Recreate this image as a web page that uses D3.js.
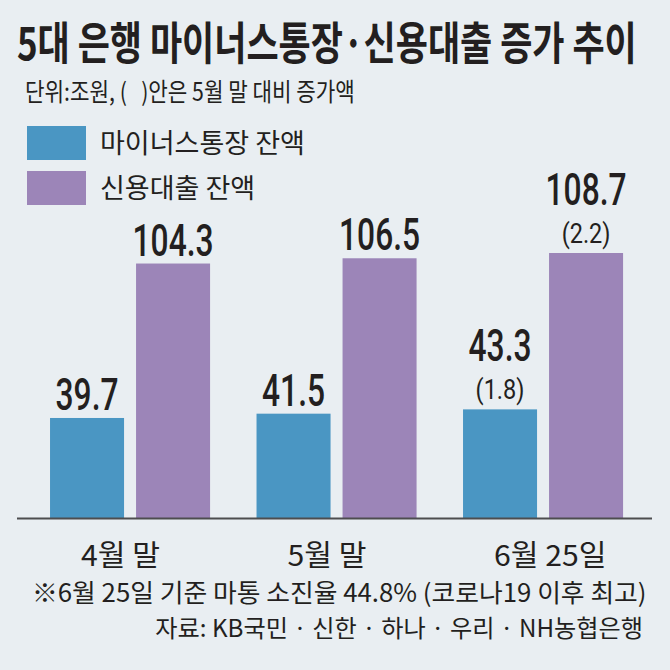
<!DOCTYPE html>
<html>
<head>
<meta charset="utf-8">
<script src="https://cdn.jsdelivr.net/npm/d3@7"></script>
<style>
  html, body { margin: 0; padding: 0; background: #e9eef2; }
  text { white-space: pre; }
</style>
</head>
<body>
<script>
// ---------- data ----------
const categories = ["4월 말", "5월 말", "6월 25일"];
const seriesNames = ["마이너스통장 잔액", "신용대출 잔액"];
const minusAccount = [39.7, 41.5, 43.3];
const creditLoan = [104.3, 106.5, 108.7];
const minusChange = [null, null, 1.8];
const creditChange = [null, null, 2.2];
const titleText = "5대 은행 마이너스통장·신용대출 증가 추이";
const unitText = "단위:조원, (   )안은 5월 말 대비 증가액";
const noteText = "※6월 25일 기준 마통 소진율 44.8% (코로나19 이후 최고)";
const sourceText = "자료: KB국민 · 신한 · 하나 · 우리 · NH농협은행";

// ---------- setup ----------
const W = 670, H = 670;
const BG = "#e9eef2", INK = "#231f20";
const colors = ["#4a96c3", "#9c85b8"];
const KR = "'Noto Sans CJK KR', 'Noto Sans', sans-serif";
const NUM = "Roboto, 'Liberation Sans', sans-serif";

const svg = d3.select("body").append("svg")
  .attr("width", W).attr("height", H);
svg.append("rect").attr("width", W).attr("height", H).attr("fill", BG);

// text helper: draw at (x,y) with horizontal condensing
function addText(str, x, y, o) {
  const t = svg.append("text").text(str)
    .attr("font-family", o.family || KR)
    .attr("font-size", o.size)
    .attr("font-weight", o.weight || 400)
    .attr("fill", o.fill || INK)
    .attr("text-anchor", o.anchor || "start");
  let s = o.sx || 1;
  if (o.width) s = o.width / t.node().getComputedTextLength();
  t.attr("transform", `translate(${x},${y}) scale(${s},1)`);
  return s;
}
function naturalWidth(str, o) {
  const t = svg.append("text").text(str)
    .attr("font-family", o.family || KR).attr("font-size", o.size)
    .attr("font-weight", o.weight || 400);
  const w = t.node().getComputedTextLength();
  t.remove();
  return w;
}

// ---------- titles ----------
addText(titleText, 17, 60, {size: 45, weight: 700, width: 620});
addText(unitText, 25, 101, {size: 25, width: 330});

// ---------- legend ----------
const legOpts = {size: 27};
const legS = 205 / naturalWidth(seriesNames[0], legOpts);
seriesNames.forEach((n, i) => {
  svg.append("rect")
    .attr("x", 27).attr("y", 126 + i * 45)
    .attr("width", 59).attr("height", 34)
    .attr("fill", colors[i]);
  addText(n, 100, 153 + i * 45, {size: 27, sx: legS});
});

// ---------- scales ----------
const baseline = 518;
const x0 = d3.scaleBand().domain(categories)
  .range([26.8, 646.3]).paddingInner(0.225).paddingOuter(0.1125);
const x1 = d3.scaleBand().domain([0, 1])
  .range([0, x0.bandwidth()]).paddingInner(12 / 86).paddingOuter(0);
const y = d3.scaleLinear().domain([0, 110]).range([512.9, 249.9]);

const rows = categories.map((c, i) => ({
  cat: c,
  vals: [
    {s: 0, v: minusAccount[i], ch: minusChange[i]},
    {s: 1, v: creditLoan[i], ch: creditChange[i]}
  ]
}));

const groups = svg.append("g").selectAll("g").data(rows).join("g")
  .attr("transform", d => `translate(${x0(d.cat)},0)`);

groups.selectAll("rect").data(d => d.vals).join("rect")
  .attr("x", d => x1(d.s))
  .attr("y", d => y(d.v))
  .attr("width", x1.bandwidth())
  .attr("height", d => baseline - y(d.v))
  .attr("fill", d => colors[d.s]);

// ---------- value labels ----------
const valOpts = {family: NUM, size: 44, weight: 500};
const valS = 81 / naturalWidth("104.3", valOpts);
const chOpts = {family: NUM, size: 28, weight: 400};
rows.forEach(r => {
  r.vals.forEach(d => {
    const cx = x0(r.cat) + x1(d.s) + x1.bandwidth() / 2;
    let top = y(d.v);
    if (d.ch != null) {
      addText(`(${d.ch.toFixed(1)})`, cx, top - 10, {...chOpts, anchor: "middle", sx: 0.84});
      top -= 10 + 38;
      addText(d.v.toFixed(1), cx, top, {...valOpts, anchor: "middle", sx: valS});
    } else {
      addText(d.v.toFixed(1), cx, top - 8, {...valOpts, anchor: "middle", sx: valS});
    }
  });
});

// ---------- baseline ----------
svg.append("line")
  .attr("x1", 17).attr("x2", 652)
  .attr("y1", baseline + 0.5).attr("y2", baseline + 0.5)
  .attr("stroke", "#4d4d4f").attr("stroke-width", 2);

// ---------- category labels ----------
const catOpts = {size: 29};
const catS = 79 / naturalWidth(categories[0], catOpts);
categories.forEach(c => {
  addText(c, x0(c) + 31, 566, {size: 29, sx: catS});
});

// ---------- notes ----------
addText(noteText, 32, 602, {size: 25, width: 615});
addText(sourceText, 643, 637, {size: 24, width: 488, anchor: "end"});
</script>
</body>
</html>
